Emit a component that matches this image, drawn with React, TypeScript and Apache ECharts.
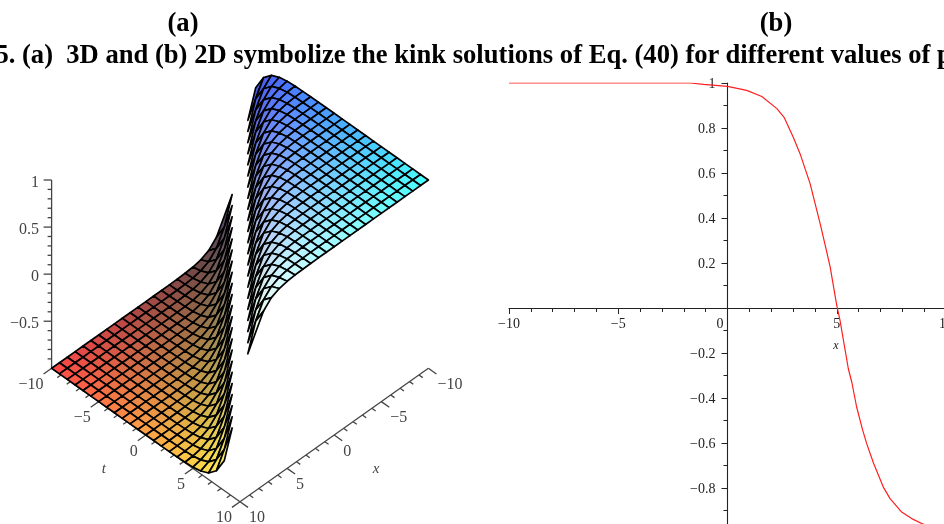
import React, { useEffect, useRef } from "react";
import * as echarts from "echarts";

const panelLabels = ["(a)", "(b)"];
const captionText = "5. (a)  3D and (b) 2D symbolize the kink solutions of Eq. (40) for different values of p";

// 2D profile
const curveX = [-10, -1.7, -1.1, 0, 0.88, 1.57, 2.26, 2.6, 3.02, 3.32, 3.78, 4.24, 4.47, 4.7, 5, 5.15, 5.53, 5.69, 5.91, 6.19, 6.37, 6.68, 7.13, 7.44, 7.97, 8.43, 8.89, 9.4, 10];
const curveU = [1, 1, 0.994, 0.985, 0.967, 0.94, 0.886, 0.846, 0.757, 0.686, 0.553, 0.375, 0.279, 0.182, 0.012, -0.055, -0.27, -0.33, -0.44, -0.544, -0.603, -0.689, -0.796, -0.847, -0.907, -0.936, -0.958, -0.975, -0.985];

// Panel (a): a 25 x 25 mesh; height depends on how many mesh steps t is ahead of x.
const meshCells = 24;
const meshHeightByStep = [0.394, 0.682, 0.848, 0.931, 0.969, 0.987, 0.994, 0.997, 0.999, 1, 1, 1, 1, 1, 1, 1, 1, 1, 1, 1, 1, 1, 1, 1];

const axisT = [-10, -5, 0, 5, 10];
const axisX = [-10, -5, 0, 5, 10];
const axisZ = ["1", "0.5", "0", "\u22120.5"];
const axisZValues = [1, 0.5, 0, -0.5];
const fmt = (v: number) => String(v).replace("-", "\u2212");

const CX = 240, BY = 501.7, KX = 9.42, KY = 6.67, KZ = 94.15;
const project = (x: number, t: number, z: number): [number, number] => [
  CX + KX * (t - x),
  BY - KY * (20 - x - t) - KZ * (z + 1),
];

const stepValue = (k: number) => (k > 0 ? meshHeightByStep[k - 1] : -meshHeightByStep[-k - 1]);
const meshCoord = (i: number) => -10 + (20 * i) / meshCells;

function buildCells() {
  const cells: number[][] = [];
  for (let sum = 0; sum <= 2 * meshCells; sum++) {
    for (let i = 0; i < meshCells; i++) {
      const j = sum - i;
      if (j < 0 || j >= meshCells) continue;
      if (Math.abs(j - i) <= 1) continue;
      cells.push([i, j]);
    }
  }
  return cells;
}

function buildAxisSegments() {
  const seg: number[][] = [];
  seg.push([10, -10, -1, 10, 10, -1]);
  seg.push([10, 10, -1, -10, 10, -1]);
  seg.push([10, -10, -1, 10, -10, 1]);
  for (let v = -10; v <= 10; v++) {
    const len = v % 5 === 0 ? 0.85 : 0.4;
    seg.push([10, v, -1, 10 + len, v, -1]);
    seg.push([v, 10, -1, v, 10 + len, -1]);
  }
  return seg;
}
const zTickValues = [1, 0.9, 0.8, 0.7, 0.6, 0.5, 0.4, 0.3, 0.2, 0.1, 0, -0.1, -0.2, -0.3, -0.4, -0.5, -0.6, -0.7, -0.8, -0.9];

const LABEL_FONT = '16px "Liberation Serif"';
const AXIS_GREY = "#444";

function leftOption() {
  const cells = buildCells();
  const segments = buildAxisSegments();
  const toPx = (api: any, p: [number, number]) => api.coord(p);
  const labels: { text: string; p: [number, number]; dx: number; dy: number; align: string; font?: string }[] = [];
  axisT.forEach((v) => labels.push({ text: fmt(v), p: project(10, v, -1), dx: -8, dy: 15, align: "right" }));
  axisX.forEach((v) => labels.push({ text: fmt(v), p: project(v, 10, -1), dx: 9, dy: 15, align: "left" }));
  axisZValues.forEach((v, i) => labels.push({ text: axisZ[i], p: project(10, -10, v), dx: -12.5, dy: 1, align: "right" }));
  labels.push({ text: "t", p: project(10, 0, -1), dx: -42, dy: 33, align: "center", font: 'italic 15px "Liberation Serif"' });
  labels.push({ text: "x", p: project(0, 10, -1), dx: 42, dy: 33, align: "center", font: 'italic 15px "Liberation Serif"' });

  return {
    animation: false,
    grid: { left: 0, top: 0, width: 480, height: 524, outerBoundsMode: "none" },
    xAxis: { type: "value", min: 0, max: 480, show: false },
    yAxis: { type: "value", min: 0, max: 524, inverse: true, show: false },
    series: [
      {
        type: "custom",
        silent: true,
        clip: false,
        data: segments,
        renderItem: (_: any, api: any) => {
          const a = toPx(api, project(api.value(0), api.value(1), api.value(2)));
          const b = toPx(api, project(api.value(3), api.value(4), api.value(5)));
          return {
            type: "line",
            shape: { x1: a[0], y1: a[1], x2: b[0], y2: b[1] },
            style: { stroke: AXIS_GREY, lineWidth: 1.3 },
          };
        },
      },
      {
        type: "custom",
        silent: true,
        clip: false,
        data: zTickValues.map((v) => [v]),
        renderItem: (_: any, api: any) => {
          const v = api.value(0);
          const a = toPx(api, project(10, -10, v));
          const major = Math.abs(v * 2 - Math.round(v * 2)) < 1e-6;
          return {
            type: "line",
            shape: { x1: a[0], y1: a[1], x2: a[0] - (major ? 8 : 4), y2: a[1] },
            style: { stroke: AXIS_GREY, lineWidth: 1.3 },
          };
        },
      },
      {
        type: "custom",
        silent: true,
        clip: false,
        data: cells,
        renderItem: (_: any, api: any) => {
          const i = api.value(0);
          const j = api.value(1);
          const corners = [[i, j], [i + 1, j], [i + 1, j + 1], [i, j + 1]];
          const pts = corners.map(([a, b]) =>
            toPx(api, project(meshCoord(a), meshCoord(b), stepValue(b - a)))
          );
          const xm = meshCoord(i + 0.5);
          const tm = meshCoord(j + 0.5);
          const zm = corners.reduce((s, [a, b]) => s + stepValue(b - a), 0) / 4;
          const r = Math.round(70 + (185 * (xm + 10)) / 20);
          const g = Math.round(70 + (185 * (tm + 10)) / 20);
          const b = Math.round(70 + (185 * (zm + 1)) / 2);
          return {
            type: "polygon",
            shape: { points: pts },
            style: { fill: `rgb(${r},${g},${b})`, stroke: "#000", lineWidth: 1.7, lineJoin: "round" },
          };
        },
      },
      {
        type: "custom",
        silent: true,
        clip: false,
        data: labels.map((_, i) => [i]),
        renderItem: (params: any, api: any) => {
          const l = labels[params.dataIndex];
          const a = toPx(api, l.p);
          return {
            type: "text",
            x: a[0] + l.dx,
            y: a[1] + l.dy,
            style: {
              text: l.text,
              font: l.font || LABEL_FONT,
              fill: AXIS_GREY,
              align: l.align,
              verticalAlign: "middle",
            },
          };
        },
      },
    ],
  };
}

function rightOption() {
  const signed = (v: number) => (v === 0 ? "" : String(v).replace("-", "\u2212"));
  const FONT = "Liberation Serif";
  const INK = "#222";
  return {
    animation: false,
    grid: { left: 509, top: 83, width: 437, height: 450, outerBoundsMode: "none", containLabel: false },
    xAxis: {
      type: "value",
      min: -10,
      max: 10,
      interval: 5,
      position: "bottom",
      offset: -225,
      splitLine: { show: false },
      axisLine: { onZero: false, lineStyle: { color: INK, width: 1.1 } },
      axisTick: { show: true, length: 6, lineStyle: { color: INK } },
      minorTick: { show: true, splitNumber: 5, length: 4, lineStyle: { color: INK } },
      axisLabel: { show: true, margin: 8, fontFamily: FONT, fontSize: 14, color: INK, formatter: signed, hideOverlap: false },
    },
    yAxis: {
      type: "value",
      min: -1,
      max: 1,
      interval: 0.2,
      position: "left",
      offset: -218.5,
      splitLine: { show: false },
      axisLine: { onZero: false, lineStyle: { color: INK, width: 1.1 } },
      axisTick: { show: true, length: 6, lineStyle: { color: INK } },
      minorTick: { show: true, splitNumber: 2, length: 4, lineStyle: { color: INK } },
      axisLabel: { show: true, margin: 12, fontFamily: FONT, fontSize: 14, color: INK, formatter: signed, hideOverlap: false },
    },
    series: [
      {
        type: "line",
        data: curveX.map((x, i) => [x, curveU[i]]),
        symbol: "none",
        smooth: false,
        lineStyle: { color: "#ff1f1f", width: 1.2 },
      },
    ],
    graphic: [
      { type: "text", x: 183, y: 22, style: { text: panelLabels[0], font: 'bold 26.6px "Liberation Serif"', fill: "#000", align: "center", verticalAlign: "middle" } },
      { type: "text", x: 776, y: 22, style: { text: panelLabels[1], font: 'bold 26.6px "Liberation Serif"', fill: "#000", align: "center", verticalAlign: "middle" } },
      { type: "text", x: -4.6, y: 54, style: { text: captionText, font: 'bold 26.6px "Liberation Serif"', fill: "#000", align: "left", verticalAlign: "middle" } },
      { type: "text", x: 720, y: 323, style: { text: "0", font: '14px "Liberation Serif"', fill: INK, align: "center", verticalAlign: "middle" } },
      { type: "text", x: 836, y: 345, style: { text: "x", font: 'italic 12px "Liberation Serif"', fill: INK, align: "center", verticalAlign: "middle" } },
    ],
  };
}

export default function App() {
  const leftRef = useRef<HTMLDivElement>(null);
  const rightRef = useRef<HTMLDivElement>(null);
  useEffect(() => {
    const left = echarts.init(leftRef.current!, undefined, { renderer: "svg" });
    left.setOption(leftOption() as any);
    const right = echarts.init(rightRef.current!, undefined, { renderer: "svg" });
    right.setOption(rightOption() as any);
    return () => {
      left.dispose();
      right.dispose();
    };
  }, []);
  return (
    <div style={{ position: "fixed", left: 0, top: 0, width: 944, height: 524, overflow: "hidden", background: "#fff" }}>
      <div ref={leftRef} style={{ position: "absolute", left: 0, top: 0, width: 480, height: 524, filter: "blur(0.6px)" }} />
      <div ref={rightRef} style={{ position: "absolute", left: 0, top: 0, width: 944, height: 524, filter: "blur(0.3px)" }} />
    </div>
  );
}
